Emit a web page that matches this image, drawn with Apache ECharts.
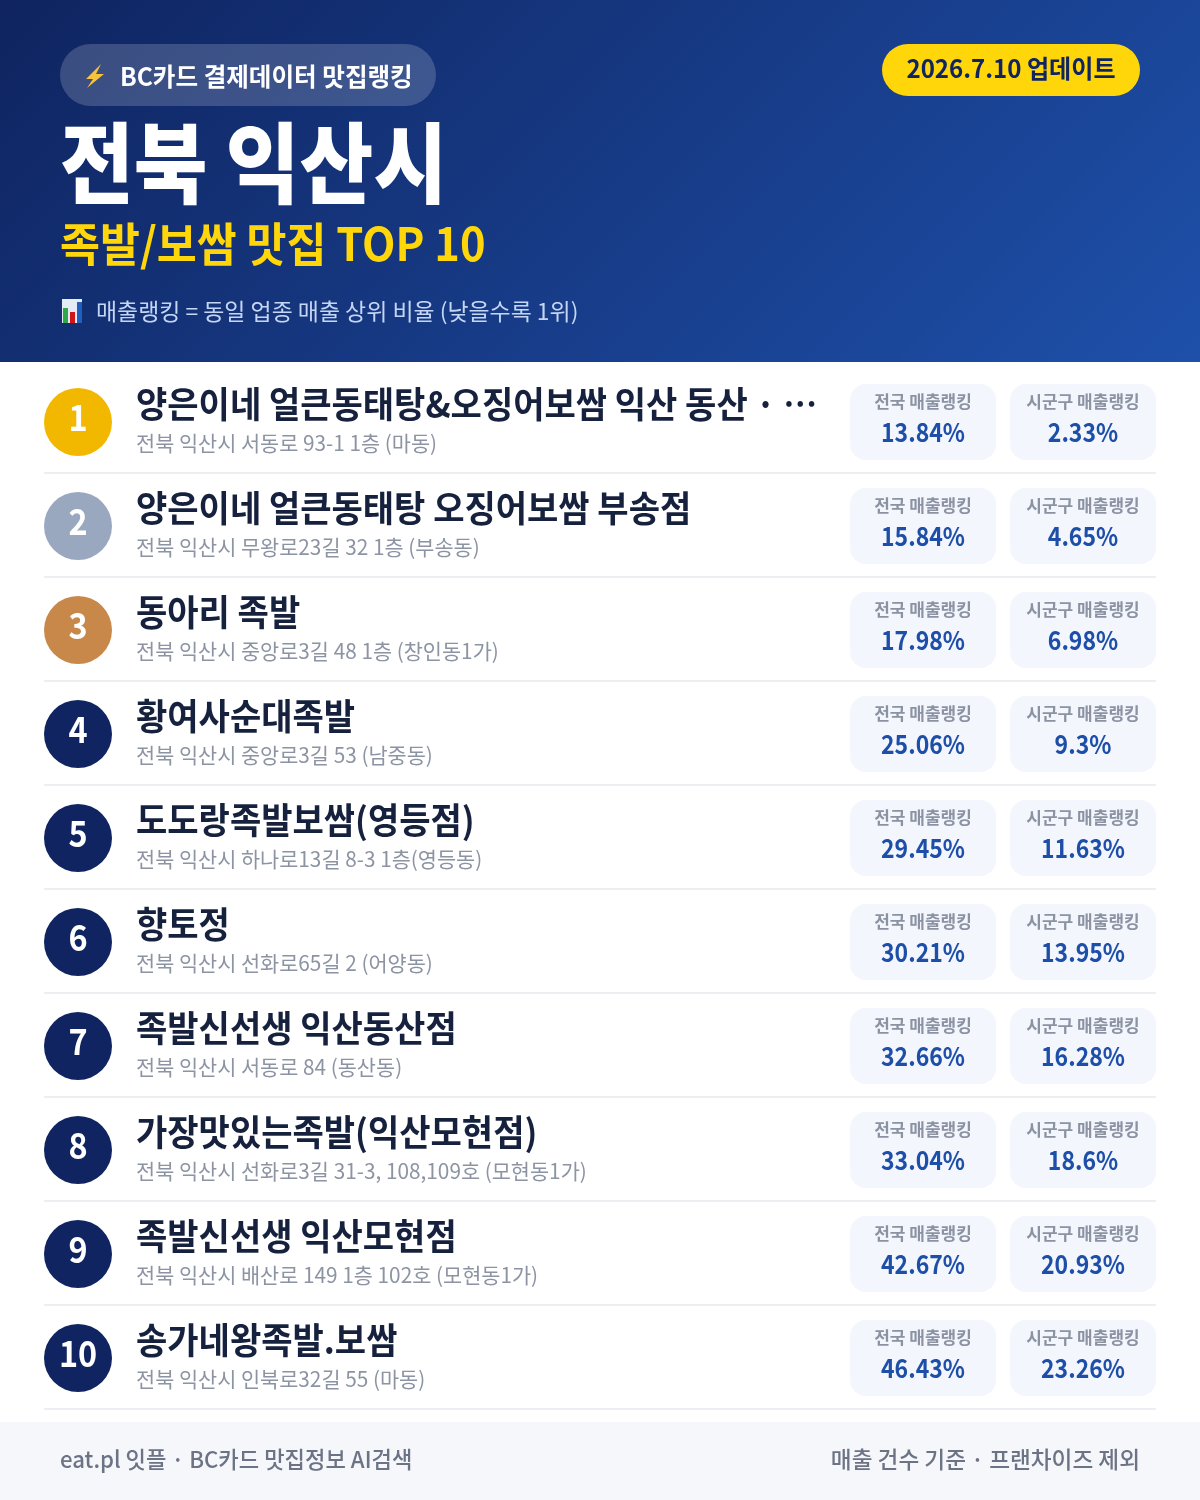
<!DOCTYPE html>
<html>
<head>
<meta charset="utf-8">
<title>전북 익산시 족발/보쌈 맛집 TOP 10</title>
<script src="https://cdn.jsdelivr.net/npm/echarts@6/dist/echarts.min.js"></script>
<style>
  html, body { margin: 0; padding: 0; background: #fff; }
  #main { width: 1200px; height: 1500px; }
</style>
</head>
<body>
<div id="main"></div>
<script>
var ranks = [1, 2, 3, 4, 5, 6, 7, 8, 9, 10];
var names = [
  '양은이네 얼큰동태탕&오징어보쌈 익산 동산 · …',
  '양은이네 얼큰동태탕 오징어보쌈 부송점',
  '동아리 족발',
  '황여사순대족발',
  '도도랑족발보쌈(영등점)',
  '향토정',
  '족발신선생 익산동산점',
  '가장맛있는족발(익산모현점)',
  '족발신선생 익산모현점',
  '송가네왕족발.보쌈'
];
var addresses = [
  '전북 익산시 서동로 93-1 1층 (마동)',
  '전북 익산시 무왕로23길 32 1층 (부송동)',
  '전북 익산시 중앙로3길 48 1층 (창인동1가)',
  '전북 익산시 중앙로3길 53 (남중동)',
  '전북 익산시 하나로13길 8-3 1층(영등동)',
  '전북 익산시 선화로65길 2 (어양동)',
  '전북 익산시 서동로 84 (동산동)',
  '전북 익산시 선화로3길 31-3, 108,109호 (모현동1가)',
  '전북 익산시 배산로 149 1층 102호 (모현동1가)',
  '전북 익산시 인북로32길 55 (마동)'
];
var nationalRank = [13.84, 15.84, 17.98, 25.06, 29.45, 30.21, 32.66, 33.04, 42.67, 46.43];
var districtRank = [2.33, 4.65, 6.98, 9.3, 11.63, 13.95, 16.28, 18.6, 20.93, 23.26];
var medalColors = ['#f2b800', '#9aa8bf', '#c8884a'];

var FONT = '"Noto Sans CJK KR", sans-serif';

// 글자 하나. sx는 원본의 좁은 자간에 맞추는 가로 비율
function label(text, x, y, size, weight, color, align, sx) {
  return {
    type: 'text',
    scaleX: sx || 1,
    originX: x,
    originY: y,
    style: {
      text: text, x: x, y: y, fill: color,
      font: weight + ' ' + size + 'px ' + FONT,
      align: align || 'left', verticalAlign: 'middle'
    }
  };
}

// 순위 한 줄: x축은 픽셀과 같은 0~1200, y축은 카테고리
function renderRow(params, api) {
  var i = api.value(0);
  var cy = api.coord([0, i])[1];
  var bandH = api.size([0, 1])[1];
  var x = function (v) { return api.coord([v, i])[0]; };
  var card = function (left, title, val) {
    var w = 146;
    return [
      { type: 'rect', shape: { x: x(left), y: cy - 38, width: w, height: 76, r: 16 }, style: { fill: '#f3f6fd' } },
      label(title, x(left) + w / 2, cy - 20, 17, 700, '#8b93a3', 'center', 1),
      label(val + '%', x(left) + w / 2, cy + 10, 26, 700, '#1e4fa8', 'center', 0.885)
    ];
  };
  var children = [
    { type: 'circle', shape: { cx: x(78), cy: cy, r: 34 }, style: { fill: medalColors[i] || '#0f2460' } },
    label(String(ranks[i]), x(78), cy - 5, 36, 700, '#ffffff', 'center', 0.9),
    label(names[i], x(136), cy - 18, 36, 700, '#16213e', 'left', 0.945),
    label(addresses[i], x(136), cy + 21, 21, 400, '#8c94a3', 'left', 0.99),
    { type: 'rect', shape: { x: x(44), y: cy + bandH / 2 - 2, width: 1112, height: 2 }, style: { fill: '#eceef2' } }
  ];
  children = children.concat(card(850, '전국 매출랭킹', nationalRank[i]));
  children = children.concat(card(1010, '시군구 매출랭킹', districtRank[i]));
  return { type: 'group', children: children };
}

var myChart = echarts.init(document.getElementById('main'));

var option = {
  animation: false,
  backgroundColor: '#ffffff',
  grid: { left: 0, width: 1200, top: 370, height: 1040 },
  xAxis: { type: 'value', min: 0, max: 1200, show: false },
  yAxis: { type: 'category', data: ranks, inverse: true, show: false },
  series: [{
    type: 'custom',
    renderItem: renderRow,
    encode: { y: 0 },
    data: ranks.map(function (r, i) { return [i]; })
  }],
  graphic: [
    {
      type: 'rect', shape: { x: 0, y: 0, width: 1200, height: 362 },
      // css 135deg 그라디언트와 같은 방향
      style: { fill: new echarts.graphic.LinearGradient(209.5, -209.5, 990.5, 571.5, [
        { offset: 0, color: '#0f2460' }, { offset: 1, color: '#1e50aa' }
      ], true) }
    },
    { type: 'rect', shape: { x: 60, y: 44, width: 376, height: 62, r: 31 }, style: { fill: 'rgba(255,255,255,0.18)' } },
    { type: 'polygon', shape: { points: [[101, 64], [86, 79], [93, 79], [87, 88], [104, 74], [96, 74]] }, style: { fill: '#f7c23c' } },
    label('BC카드 결제데이터 맛집랭킹', 120, 76, 25, 700, '#ffffff', 'left', 0.983),
    { type: 'rect', shape: { x: 882, y: 44, width: 258, height: 52, r: 26 }, style: { fill: '#ffd60a' } },
    label('2026.7.10 업데이트', 1011, 68, 25, 700, '#0f2460', 'center', 0.963),
    label('전북 익산시', 60, 163, 88, 900, '#ffffff', 'left', 0.911),
    label('족발/보쌈 맛집 TOP 10', 60, 244, 46, 700, '#ffd60a', 'left', 0.944),
    { type: 'rect', shape: { x: 62, y: 299, width: 20, height: 24 }, style: { fill: '#e4ebf5' } },
    { type: 'rect', shape: { x: 63, y: 308, width: 5, height: 15 }, style: { fill: '#2fa84a' } },
    { type: 'rect', shape: { x: 70, y: 312, width: 5, height: 11 }, style: { fill: '#d0161b' } },
    { type: 'rect', shape: { x: 77, y: 302, width: 5, height: 21 }, style: { fill: '#1e5fc0' } },
    label('매출랭킹 = 동일 업종 매출 상위 비율 (낮을수록 1위)', 96, 311, 23, 400, '#c5d6f5', 'left', 0.996),
    { type: 'rect', shape: { x: 0, y: 1422, width: 1200, height: 78 }, style: { fill: '#f5f7fb' } },
    label('eat.pl 잇플 · BC카드 맛집정보 AI검색', 60, 1459, 23, 500, '#6b7385', 'left', 0.965),
    label('매출 건수 기준 · 프랜차이즈 제외', 1140, 1459, 23, 500, '#6b7385', 'right', 0.984)
  ]
};

myChart.setOption(option);
window.onresize = function () {
  myChart.resize();
};
</script>
</body>
</html>
